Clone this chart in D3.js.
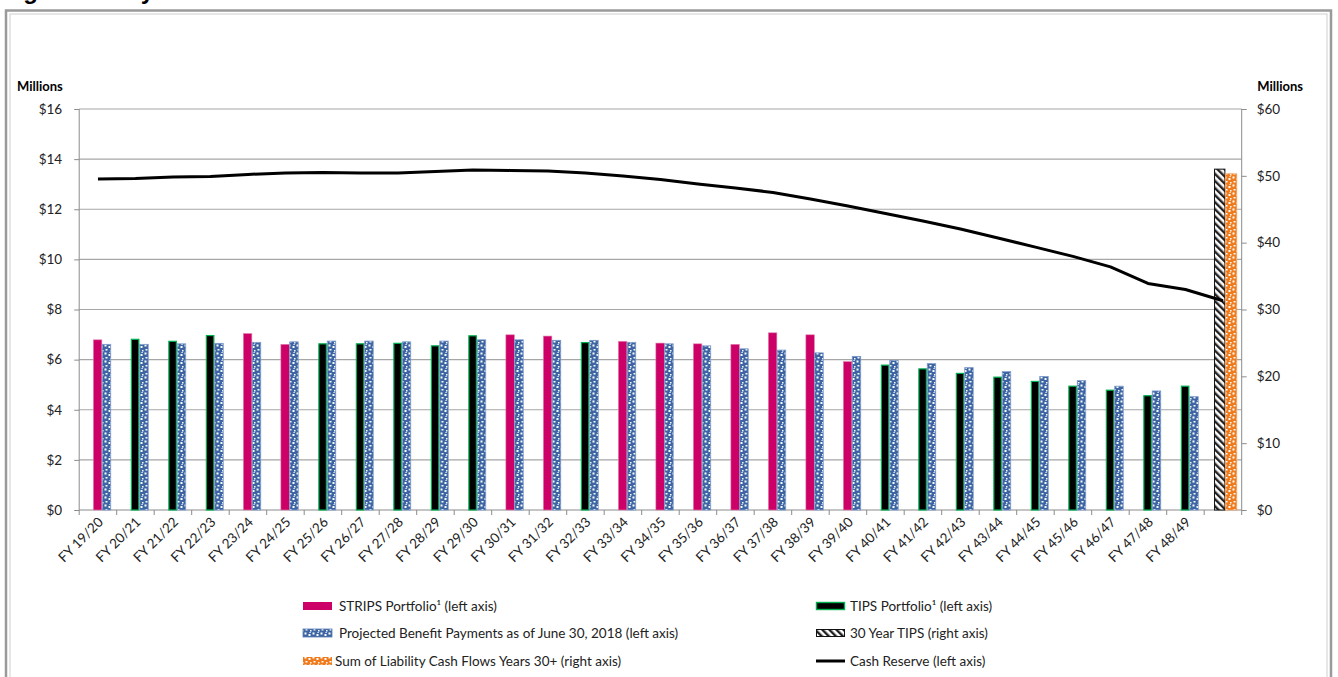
<!DOCTYPE html>
<html><head><meta charset="utf-8">
<script src="https://cdn.jsdelivr.net/npm/d3@7/dist/d3.min.js"></script>
<style>
html,body{margin:0;padding:0;background:#fff;}
svg{display:block;font-family:Lato,"Open Sans",sans-serif;}
</style></head>
<body><svg id="c" width="1338" height="677"></svg>
<script>
// ---- data ----
const categories = ["FY 19/20","FY 20/21","FY 21/22","FY 22/23","FY 23/24","FY 24/25","FY 25/26","FY 26/27","FY 27/28","FY 28/29",
  "FY 29/30","FY 30/31","FY 31/32","FY 32/33","FY 33/34","FY 34/35","FY 35/36","FY 36/37","FY 37/38","FY 38/39",
  "FY 39/40","FY 40/41","FY 41/42","FY 42/43","FY 43/44","FY 44/45","FY 45/46","FY 46/47","FY 47/48","FY 48/49",""];
const stripsPortfolio = [6.79,null,null,null,7.04,6.61,null,null,null,null,
  null,6.99,6.94,null,6.73,6.66,6.63,6.61,7.07,6.99,
  5.92,null,null,null,null,null,null,null,null,null,null];
const tipsPortfolio = [null,6.83,6.75,6.98,null,null,6.65,6.65,6.67,6.57,
  6.97,null,null,6.70,null,null,null,null,null,null,
  null,5.80,5.65,5.47,5.32,5.15,4.96,4.80,4.58,4.96,null];
const projectedBenefits = [6.61,6.61,6.63,6.65,6.69,6.71,6.74,6.74,6.71,6.74,
  6.79,6.79,6.77,6.77,6.69,6.63,6.55,6.43,6.38,6.27,
  6.13,5.97,5.84,5.68,5.52,5.33,5.16,4.94,4.75,4.52,null];
const thirtyYearTips = [null,null,null,null,null,null,null,null,null,null,
  null,null,null,null,null,null,null,null,null,null,
  null,null,null,null,null,null,null,null,null,null,51.0];
const sumLiability30Plus = [null,null,null,null,null,null,null,null,null,null,
  null,null,null,null,null,null,null,null,null,null,
  null,null,null,null,null,null,null,null,null,null,50.3];
const cashReserve = [13.21,13.23,13.29,13.31,13.39,13.45,13.47,13.45,13.45,13.51,
  13.57,13.55,13.53,13.45,13.33,13.19,13.01,12.85,12.67,12.41,
  12.13,11.83,11.53,11.21,10.85,10.49,10.12,9.70,9.04,8.80,8.35];
const leftTicks = [0,2,4,6,8,10,12,14,16];
const rightTicks = [0,10,20,30,40,50,60];
const legendItems = [
  {key:"strips", label:"STRIPS Portfolio\u00B9 (left axis)"},
  {key:"tips", label:"TIPS Portfolio\u00B9 (left axis)"},
  {key:"proj", label:"Projected Benefit Payments as of June 30, 2018 (left axis)"},
  {key:"tips30", label:"30 Year TIPS (right axis)"},
  {key:"sum", label:"Sum of Liability Cash Flows Years 30+ (right axis)"},
  {key:"cash", label:"Cash Reserve (left axis)"}
];

// ---- layout ----
const svg = d3.select("#c");
const L = 79.2, R = 1241.7, T = 109, B = 510;
const PINK = "#cc0066", GREEN = "#00b050", BLUE = "#3d65a3", ORANGE = "#f07b1c", GRID = "#a6a6a6";

// title (mostly cut off at top in the reference)
svg.append("text").attr("x",2).attr("y",-1).attr("font-family","'Liberation Sans',Arial,sans-serif")
  .attr("font-weight","bold").attr("font-size",24).attr("fill","#000").text("Figure 3: Key");

// frame
svg.append("rect").attr("x",6).attr("y",10.5).attr("width",1325).attr("height",720)
  .attr("fill","#fff").attr("stroke","#9a9a9a").attr("stroke-width",2.5);
svg.append("rect").attr("x",10).attr("y",14).attr("width",1317).attr("height",712)
  .attr("fill","#fff").attr("stroke","#cfcfcf").attr("stroke-width",1);

// defs
const defs = svg.append("defs");
function confetti(id, bg){
  const p = defs.append("pattern").attr("id",id).attr("patternUnits","userSpaceOnUse")
    .attr("width",8).attr("height",8);
  p.append("rect").attr("width",8).attr("height",8).attr("fill",bg);
  [[0.5,0.5,2,2],[4.5,2,2,2],[1.5,5,2,1.5],[6,6,1.5,1.5],[5.5,0,1.2,1]].forEach(s=>{
    p.append("rect").attr("x",s[0]).attr("y",s[1]).attr("width",s[2]).attr("height",s[3]).attr("fill","#fff");
  });
}
confetti("confBlue", BLUE);
confetti("confOrange", ORANGE);
const st = defs.append("pattern").attr("id","stripes").attr("patternUnits","userSpaceOnUse")
  .attr("width",5).attr("height",5).attr("patternTransform","rotate(-45)");
st.append("rect").attr("width",5).attr("height",5).attr("fill","#fff");
st.append("rect").attr("width",2.4).attr("height",5).attr("fill","#222");

// scales
const x = d3.scaleBand().domain(d3.range(categories.length)).range([L,R]).padding(0);
const bw = x.bandwidth();
const xInner = d3.scaleBand().domain(["a","b"]).range([0.378*bw, 0.83*bw]).padding(0);
const xInner2 = d3.scaleBand().domain(["a","b"]).range([0.262*bw, 0.868*bw]).padding(0);
const yL = d3.scaleLinear().domain([0,16]).range([B,T]);
const yR = d3.scaleLinear().domain([0,60]).range([B,T]);

// gridlines
svg.append("g").selectAll("line").data(leftTicks.filter(d=>d>0)).join("line")
  .attr("x1",L).attr("x2",R).attr("y1",d=>yL(d)).attr("y2",d=>yL(d))
  .attr("stroke",GRID).attr("stroke-width",1.2);

// left axis
const gL = svg.append("g").attr("transform",`translate(${L},0)`)
  .call(d3.axisLeft(yL).tickValues(leftTicks).tickSize(5).tickPadding(12).tickFormat(d=>"$"+d));
gL.selectAll("path,line").attr("stroke","#8c8c8c");
gL.selectAll("text").attr("font-size",13.5).attr("fill","#222").attr("font-family","Lato,sans-serif");
gL.select(".domain").attr("d",`M0,${T}V${B}`);

// right axis
const gR = svg.append("g").attr("transform",`translate(${R},0)`)
  .call(d3.axisRight(yR).tickValues(rightTicks).tickSize(5).tickPadding(10).tickFormat(d=>"$"+d));
gR.selectAll("path,line").attr("stroke","#8c8c8c");
gR.selectAll("text").attr("font-size",13.5).attr("fill","#222").attr("font-family","Lato,sans-serif");
gR.select(".domain").attr("d",`M0,${T}V${B}`);

// bottom axis line & ticks
svg.append("line").attr("x1",L).attr("x2",R).attr("y1",B).attr("y2",B).attr("stroke","#8c8c8c").attr("stroke-width",1.2);
svg.append("g").selectAll("line").data(d3.range(categories.length+1)).join("line")
  .attr("x1",d=>L+d*bw).attr("x2",d=>L+d*bw).attr("y1",B).attr("y2",B+5).attr("stroke","#8c8c8c");
svg.append("g").selectAll("text").data(categories.map((c,i)=>({c,i})).filter(d=>d.c)).join("text")
  .attr("transform",d=>`translate(${x(d.i)+bw/2+6},${B+13}) rotate(-45)`)
  .attr("text-anchor","end").attr("font-size",13.5).attr("fill","#222").text(d=>d.c);

// bars
const idx = d3.range(categories.length);
const gb = svg.append("g");
gb.selectAll(".s").data(idx.filter(i=>stripsPortfolio[i]!=null)).join("rect")
  .attr("x",i=>x(i)+xInner("a")).attr("width",xInner.bandwidth())
  .attr("y",i=>yL(stripsPortfolio[i])).attr("height",i=>B-yL(stripsPortfolio[i]))
  .attr("fill",PINK).attr("stroke","#e080b0").attr("stroke-width",0.6);
gb.selectAll(".t").data(idx.filter(i=>tipsPortfolio[i]!=null)).join("rect")
  .attr("x",i=>x(i)+xInner("a")+0.5).attr("width",xInner.bandwidth()-1)
  .attr("y",i=>yL(tipsPortfolio[i])+0.5).attr("height",i=>B-yL(tipsPortfolio[i])-0.5)
  .attr("fill","#000").attr("stroke",GREEN).attr("stroke-width",1.2);
gb.selectAll(".p").data(idx.filter(i=>projectedBenefits[i]!=null)).join("rect")
  .attr("x",i=>x(i)+xInner("b")+0.4).attr("width",xInner.bandwidth())
  .attr("y",i=>yL(projectedBenefits[i])).attr("height",i=>B-yL(projectedBenefits[i]))
  .attr("fill","url(#confBlue)").attr("stroke","#7a98c8").attr("stroke-width",0.8);
gb.selectAll(".t30").data(idx.filter(i=>thirtyYearTips[i]!=null)).join("rect")
  .attr("x",i=>x(i)+xInner2("a")+0.5).attr("width",xInner2.bandwidth()-1)
  .attr("y",i=>yR(thirtyYearTips[i])).attr("height",i=>B-yR(thirtyYearTips[i]))
  .attr("fill","url(#stripes)").attr("stroke","#111").attr("stroke-width",1);
gb.selectAll(".sum").data(idx.filter(i=>sumLiability30Plus[i]!=null)).join("rect")
  .attr("x",i=>x(i)+xInner2("b")).attr("width",xInner2.bandwidth())
  .attr("y",i=>yR(sumLiability30Plus[i])).attr("height",i=>B-yR(sumLiability30Plus[i]))
  .attr("fill","url(#confOrange)").attr("stroke","#f5a060").attr("stroke-width",0.8);

// cash reserve line
svg.append("path").datum(idx).attr("fill","none").attr("stroke","#000").attr("stroke-width",3)
  .attr("stroke-linejoin","round")
  .attr("d",d3.line().x(i=>x(i)+bw/2).y(i=>yL(cashReserve[i])));

// "Millions" labels
svg.append("text").attr("x",17).attr("y",91).attr("font-weight","bold").attr("font-size",13).attr("fill","#000").text("Millions");
svg.append("text").attr("x",1303).attr("y",91).attr("text-anchor","end").attr("font-weight","bold").attr("font-size",13).attr("fill","#000").text("Millions");

// legend
const lg = svg.append("g");
const legPos = {
  strips:{x:303,y:606,tx:339}, proj:{x:303,y:633,tx:339}, sum:{x:303,y:661,tx:335},
  tips:{x:816,y:606,tx:850}, tips30:{x:816,y:633,tx:850}, cash:{x:816,y:661,tx:850}
};
legendItems.forEach(it=>{
  const p = legPos[it.key];
  const sw = 29, sh = 8;
  if(it.key==="strips") lg.append("rect").attr("x",p.x).attr("y",p.y-4).attr("width",sw).attr("height",sh).attr("fill",PINK);
  if(it.key==="proj") lg.append("rect").attr("x",p.x).attr("y",p.y-4).attr("width",sw).attr("height",sh).attr("fill","url(#confBlue)").attr("stroke","#5a7db5").attr("stroke-width",0.8);
  if(it.key==="sum") lg.append("rect").attr("x",p.x).attr("y",p.y-4).attr("width",sw).attr("height",sh).attr("fill","url(#confOrange)");
  if(it.key==="tips") lg.append("rect").attr("x",p.x+0.5).attr("y",p.y-3.5).attr("width",sw-1).attr("height",sh-1).attr("fill","#000").attr("stroke",GREEN).attr("stroke-width",1.4);
  if(it.key==="tips30") lg.append("rect").attr("x",p.x+0.5).attr("y",p.y-3.5).attr("width",sw-1).attr("height",sh-1).attr("fill","url(#stripes)").attr("stroke","#111").attr("stroke-width",1);
  if(it.key==="cash") lg.append("line").attr("x1",p.x).attr("x2",p.x+sw).attr("y1",p.y).attr("y2",p.y).attr("stroke","#000").attr("stroke-width",3);
  lg.append("text").attr("x",p.tx).attr("y",p.y+5).attr("font-size",13.5).attr("fill","#222").text(it.label);
});
</script></body></html>
